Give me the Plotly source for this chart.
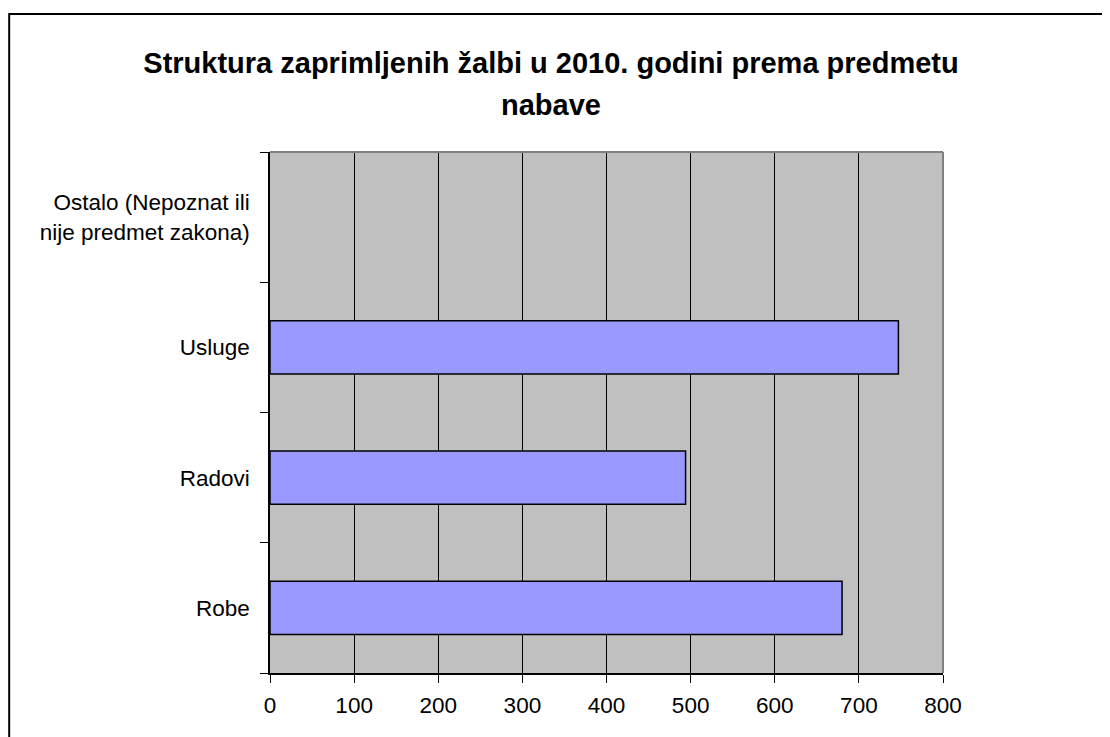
import plotly.graph_objects as go

categories = ["Robe", "Radovi", "Usluge", "Ostalo (Nepoznat ili<br>nije predmet zakona)"]
values = [680, 494, 747, 0]
x_ticks = [0, 100, 200, 300, 400, 500, 600, 700, 800]
title_line1 = "Struktura zaprimljenih žalbi u 2010. godini prema predmetu"
title_line2 = "nabave"

OFF = 8  # default page body margin
W, H = 1110 - OFF, 737 - OFF
L, T = 270 - OFF, 152 - OFF
pw, ph = 673.5, 521
R = W - L - pw
B = H - T - ph

fig = go.Figure()
fig.add_trace(go.Bar(
    y=categories, x=values, orientation="h",
    marker=dict(color="#9999FF",
                line=dict(color="black", width=[1.5 if v > 0 else 0 for v in values])),
    hoverinfo="x+y",
))

font = "Liberation Sans, Arial, sans-serif"
tfont = dict(family=font, size=22.5, color="black")
fig.update_layout(
    width=W, height=H,
    margin=dict(l=L, r=R, t=T, b=B, pad=0),
    paper_bgcolor="white",
    plot_bgcolor="#C0C0C0",
    bargap=0.59,
    showlegend=False,
    font=tfont,
    title=dict(
        text="<b>" + title_line1 + "</b>",
        x=(551 - OFF) / W, xref="container", xanchor="center",
        y=1 - (63 - OFF) / H, yref="container", yanchor="middle",
        font=dict(family=font, size=29, color="black"),
    ),
    xaxis=dict(
        range=[0, 800], tickvals=x_ticks, ticktext=[str(v) for v in x_ticks],
        showgrid=True, gridcolor="black", gridwidth=1.3,
        showline=True, linecolor="black", linewidth=1.5,
        ticks="outside", ticklen=8, tickcolor="black", tickwidth=1.3,
        ticklabelstandoff=3,
        zeroline=False, fixedrange=True,
        tickfont=tfont,
    ),
    yaxis=dict(
        type="category", categoryorder="array", categoryarray=categories,
        showgrid=False, showline=True, linecolor="black", linewidth=1.5,
        ticks="outside", tickson="boundaries", ticklen=8, tickcolor="black", tickwidth=1.3,
        ticklabelstandoff=14,
        tickfont=tfont,
        fixedrange=True,
    ),
)

# second title line
fig.add_annotation(
    text="<b>" + title_line2 + "</b>", showarrow=False,
    xref="paper", yref="paper",
    x=(551 - OFF - L) / pw, y=(T + ph - (105 - OFF)) / ph,
    xanchor="center", yanchor="middle",
    font=dict(family=font, size=29, color="black"),
)

# plot-area top/right border (gray)
fig.add_shape(type="line", xref="paper", yref="paper", x0=0, x1=1, y0=1, y1=1,
              line=dict(color="#808080", width=2), layer="above")
fig.add_shape(type="line", xref="paper", yref="paper", x0=1, x1=1, y0=0, y1=1,
              line=dict(color="#808080", width=2), layer="above")

# outer chart-area border (page px converted to paper fractions)
def px_x(px):
    return (px - OFF - L) / pw

def px_y(py):
    return (T + ph - (py - OFF)) / ph

fig.add_shape(type="rect", xref="paper", yref="paper",
              x0=px_x(9), x1=px_x(1125), y0=px_y(750), y1=px_y(14),
              line=dict(color="black", width=2), fillcolor="rgba(0,0,0,0)", layer="above")

fig.write_html("out.html")
